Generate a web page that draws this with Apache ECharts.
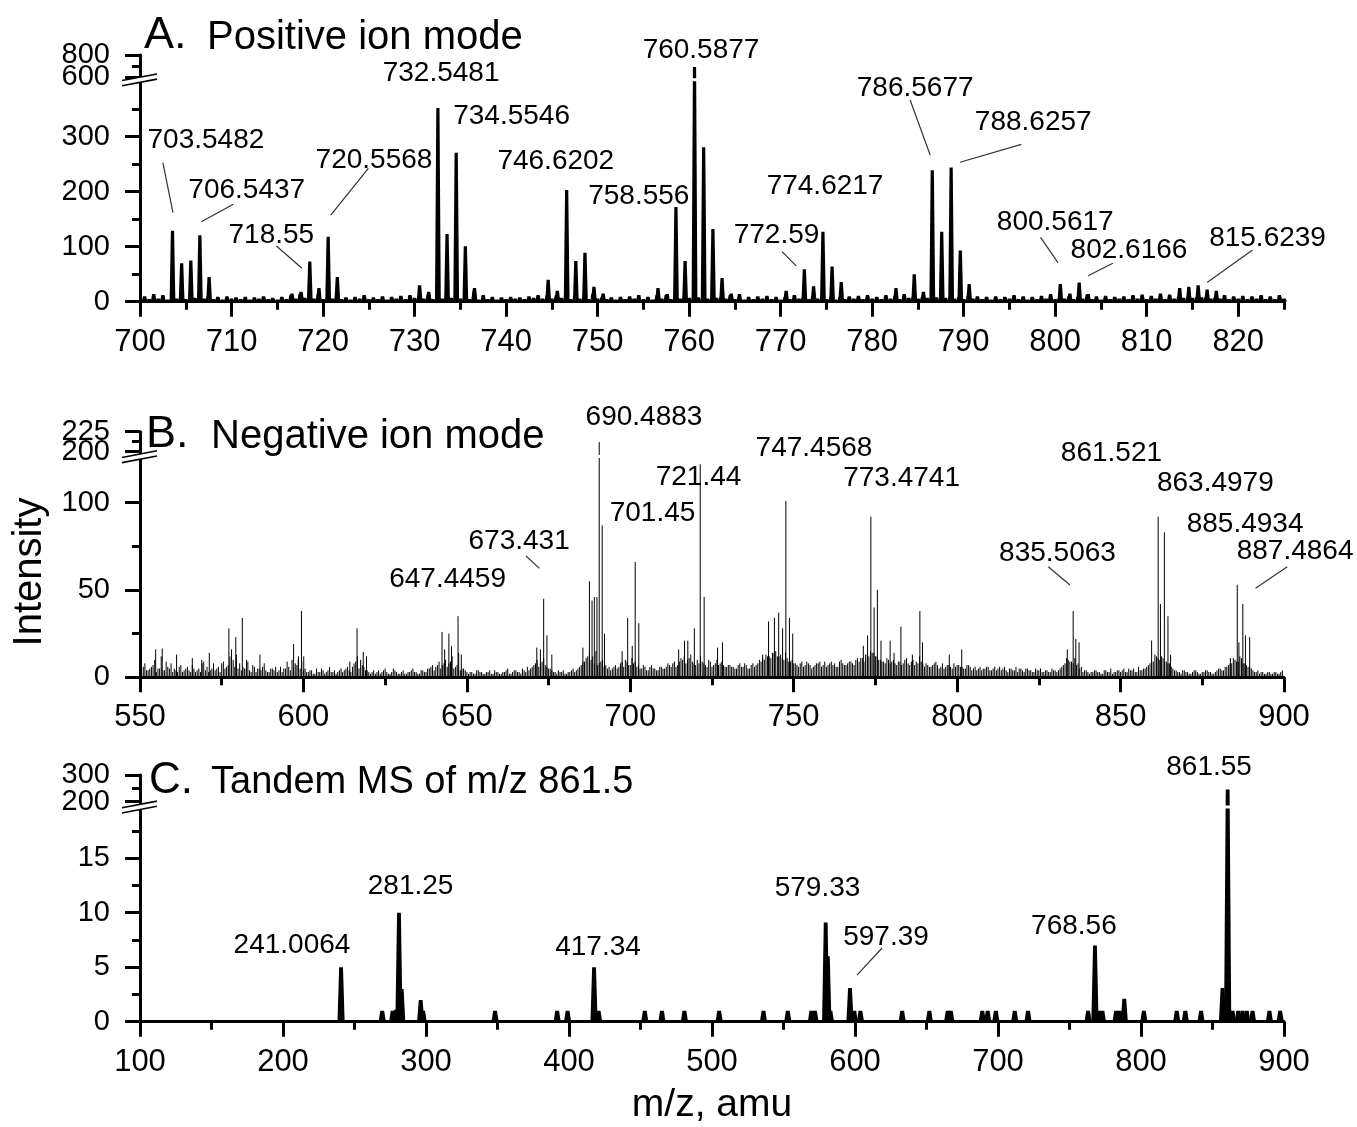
<!DOCTYPE html>
<html><head><meta charset="utf-8">
<script src="https://cdn.jsdelivr.net/npm/echarts@6/dist/echarts.min.js"></script>
<style>html,body{margin:0;padding:0;background:#fff}#c{width:1357px;height:1127px}</style>
</head><body><div id="c"></div>
<script>
const FONT = '"Liberation Sans", Arial, Helvetica, sans-serif';

// ---------- Panel A : positive ion mode ----------
const xTicksA = [700,710,720,730,740,750,760,770,780,790,800,810,820];
const xMinorA = [705,715,725,735,745,755,765,775,785,795,805,815,825];
const yTicksA = [0,100,200,300,600,800];
const yLabelValsA = [0,100,200,300,600];
const yLabelsA = ['0','100','200','300','600'];
const yTopLabelValsA = [800];
const yTopLabelsA = ['800'];
const yMinorA = [50,150,250,350,700];
const peaksA_mz = [703.55,704.55,705.55,706.54,707.55,716.6,717.6,718.55,719.55,720.56,721.56,
  730.55,731.55,732.55,733.55,734.55,735.55,736.55,744.6,745.6,746.62,747.62,748.62,749.6,750.6,
  756.6,757.6,758.56,759.56,760.59,761.59,762.6,763.6,764.6,770.6,772.59,773.6,774.62,775.62,776.62,
  782.6,784.6,785.6,786.57,787.6,788.63,789.63,790.6,800.56,801.6,802.62,803.6,813.6,814.6,815.62,816.6,817.6];
const peaksA_int = [129,70,75,121,45,15,18,73,25,118,45,
  30,18,352,123,271,101,25,40,20,203,74,89,27,15,
  25,14,172,74,690,281,132,43,15,20,59,28,127,64,36,
  25,50,18,239,127,244,93,32,32,15,35,14,25,27,30,22,20];
const noiseA1_first = 700.5; // small peaks, one per 1 amu bin (x.5)
const noiseA1 = [10,14,12,8,9,8,8,12,9,10, 8,9,8,10,7,9,12,15,10,14, 9,10,8,9,12,8,10,9,11,12,
  10,14,9,9,9,9,20,12,9,8, 9,8,10,12,12,12,9,10,9,15, 9,8,9,10,12,9,12,12,9,9,
  9,9,9,9,12,14,9,10,11,9, 9,12,9,9,9,9,9,10,11,12, 9,12,11,14,9,9,9,9,9,9,
  11,10,9,10,9,12,10,9,11,14, 9,10,9,13,10,11,9,10,12,13, 11,15,13,9,9,9,9,9,12,10, 11,10,12,10,12];
const noiseA2_first = 701; // baseline ripple at integer m/z
const noiseA2 = [5,6,4,6,5,7,6,5,4,6, 5,4,6,5,4,5,6,7,6,5, 6,5,4,6,5,5,4,6,5,7, 6,5,6,7,6,5,4,5,4,5,
  6,5,7,6,6,7,5,6,5,6, 5,4,5,6,5,4,6,5,6,7, 8,6,7,6,5,4,5,6,5,4, 5,6,5,6,5,4,5,6,5,6,
  5,6,5,7,6,7,8,7,6,5, 6,5,4,5,6,5,4,5,6,5, 6,5,6,5,4,5,6,5,6,5, 6,5,6,7,7,8,6,6,5,6, 5,6,5,5,6];
const labelsA = ['703.5482','706.5437','718.55','720.5568','732.5481','734.5546','746.6202','758.556',
  '760.5877','772.59','774.6217','786.5677','788.6257','800.5617','802.6166','815.6239'];

// ---------- Panel B : negative ion mode ----------
const xTicksB = [550,600,650,700,750,800,850,900];
const xMinorB = [575,625,675,725,775,825,875];
const yTicksB = [0,50,100,200,225];
const yLabelValsB = [0,50,100,200];
const yLabelsB = ['0','50','100','200'];
const yTopLabelValsB = [225];
const yTopLabelsB = ['225'];
const yMinorB = [25,75,212.5];
const peaksB_mz = [554.8,556.8,561.2,566,568.9,571.2,577.2,578,579.3,581.3,582.6,586.7,597,598.4,599.4,600.1,
  614.2,616.4,618.3,619.3,642.4,643.2,644.5,645.3,647.3,648.3,671.4,672.5,673.5,674.5,676,
  685.5,687.5,688.3,689.0,689.8,690.5,691.4,692.1,697.5,699.2,700.6,701.5,702.6,
  714.8,716.6,717.6,719.6,721.4,722.6,726.7,728.2,740.5,742.3,744.1,745.4,746.6,747.6,748.7,749.7,
  771.3,772.6,773.6,774.6,775.6,776.7,779.5,780.7,782.8,786.3,788.6,789.4,797.6,801.4,
  833.7,835.5,836.3,837.3,859.5,861.5,862.2,863.4,864.5,865.3,883.6,885.7,886.2,887.4,888.2,889.5];
const peaksB_int = [16,16.5,13,11,10,14,28,16,23,34,10,13,19,10,38,12,
  9,28,14.5,12,26,16,25,18,35,13,17,16,45,24,13,
  17,55,44,46,46,212,87,25,15,34,18,66,31,
  16,21,21,28,122,46,17,20,13,32,34,37,28,101,34,25,
  18,24,92,40,50,21,21,14,29,13,38,20,13,16,
  16,38,22,20,21,92,42,83,35,13,11,53,20,42,24,23];
const noiseB1_first = 551; // sticks at integer m/z
const noiseB1 = [6,4,5,7,3,5,4,9,5,3, 4,6,3,5,4,7,3,5,8,4, 3,5,4,6,8,5,7,4,6,5, 4,5,9,3,6,5,4,8,3,5,
  4,3,6,5,9,4,6,7,5,4, 3,4,2,5,3,4,3,6,3,2, 4,3,5,4,6,9,5,7,4,3, 3,2,4,3,5,2,3,4,2,3,
  2,3,4,3,2,4,3,5,6,4, 7,5,8,6,9,5,7,4,5,3, 3,2,4,3,2,3,4,2,3,2, 3,4,2,3,4,3,5,3,4,6,
  8,6,9,7,5,4,3,4,3,2, 3,4,3,5,7,9,12,10,8,7, 9,6,5,4,6,5,8,6,9,7, 8,6,5,7,4,6,5,4,6,5,
  6,7,8,6,9,10,8,11,9,7, 8,9,7,10,6,8,7,9,6,7, 6,5,7,6,8,5,7,6,8,9, 10,12,11,14,12,13,10,11,9,8,
  7,8,6,9,7,6,8,9,7,6, 8,7,6,9,8,7,9,8,10,9, 11,13,12,14,12,10,9,8,10,9, 8,9,7,10,8,9,7,8,9,6,
  7,6,8,7,6,5,7,6,8,7, 6,5,7,6,5,4,6,5,6,4, 5,4,6,5,4,5,4,6,5,4, 5,4,3,5,4,3,4,3,5,4,
  4,6,8,10,9,11,8,6,4,3, 3,4,3,2,4,3,5,3,4,3, 5,3,4,5,3,4,5,6,8,9, 12,10,11,9,8,5,4,3,4,3,
  2,3,4,2,3,4,3,2,3,5, 4,6,7,8,10,9,11,8,6,5, 3,4,3,2,3,2,3,2,3];
const noiseB2_first = 550.5; // sticks at half-integer m/z
const noiseB2 = [3,8,4,6,10,5,12,4,6,8, 5,3,7,4,6,3,5,4,3,9, 6,4,8,5,3,9,6,12,10,13, 8,6,5,4,7,3,5,6,4,3,
  5,6,4,3,5,6,10,8,12,9, 5,3,4,2,3,5,2,4,3,4, 3,5,4,6,3,8,12,10,6,4, 2,4,3,2,4,3,2,5,3,2,
  4,2,3,5,3,2,4,3,5,7, 6,9,7,10,8,12,6,14,5,4, 2,3,2,4,3,2,3,2,4,3, 2,3,5,2,4,3,2,4,6,5,
  7,10,8,11,6,5,3,2,3,4, 2,3,5,4,6,9,11,14,12,15, 8,10,7,6,5,7,6,9,10,7, 11,9,7,5,6,4,7,5,4,6,
  5,8,6,9,7,11,12,10,13,8, 10,12,8,6,9,7,10,8,7,6, 7,6,5,8,6,7,5,8,7,10, 11,13,12,14,15,12,11,14,9,10,
  8,6,9,7,8,5,7,8,6,9, 7,9,8,6,10,7,8,9,7,11, 11,9,13,15,14,12,10,9,11,8, 10,7,9,8,11,7,10,9,12,8,
  8,6,7,9,5,8,6,7,5,6, 7,6,5,7,4,6,5,4,5,6, 4,6,5,4,6,3,5,4,3,5, 3,5,4,3,4,5,3,4,3,4,
  3,5,7,11,9,8,7,5,3,4, 2,3,4,3,2,4,3,2,3,4, 4,3,5,4,3,6,4,5,7,9, 13,11,12,9,8,6,4,3,2,4,
  3,2,4,3,2,3,4,3,2,4, 5,4,6,8,11,9,12,8,7,6, 4,3,2,3,2,3,2,3,2,4];
const labelsB = ['647.4459','673.431','690.4883','701.45','721.44','747.4568','773.4741',
  '835.5063','861.521','863.4979','885.4934','887.4864'];

// ---------- Panel C : tandem MS of m/z 861.5 ----------
const xTicksC = [100,200,300,400,500,600,700,800,900];
const xMinorC = [150,250,350,450,550,650,750,850];
const yTicksC = [0,5,10,15,200,300];
const yLabelValsC = [0,5,10,15,200];
const yLabelsC = ['0','5','10','15','200'];
const yTopLabelValsC = [300];
const yTopLabelsC = ['300'];
const yMinorC = [2.5,7.5,12.5,17.5,250];
const peaksC_mz = [240.6,269.4,276.7,279,281.1,283,296.3,298,348.3,391.7,399,417.5,420.7,453,465,480.7,505,536,553,
  569.5,572,579.5,581,582.8,596.5,599.5,603.8,633,652,664.8,667,689,692.8,698.5,711.7,721,763,767.8,770.5,773,
  782.6,785,788.3,802,825,831,842,857,860.6,864,868,871,874,878,889.8,897.3];
const peaksC_int = [5.0,1.0,1.0,1.1,10.0,3.0,2.0,1.0,1.0,1.0,1.0,5.0,1.0,1.0,1.0,1.0,1.0,1.0,1.0,
  1.0,1.0,9.1,6.0,1.0,3.1,1.0,1.0,1.0,1.0,1.0,1.0,1.0,1.0,1.0,1.0,1.0,1.0,7.0,1.0,1.0,
  1.0,1.0,2.1,1.0,1.0,1.0,1.0,3.1,246,1.0,1.0,1.0,1.0,1.0,1.0,1.0];
const labelsC = ['241.0064','281.25','417.34','579.33','597.39','768.56','861.55'];

// ---------- broken-axis mappings (intensity -> axis units) ----------
const tA = v => v <= 400 ? v : (v < 600 ? 400 + (v - 400) / 200 * 8.5 : 408.5 + (v - 600) * 0.2);
const tB = v => v <= 126 ? v : (v < 200 ? 126 + (v - 126) / 74 * 3.2 : 129.2 + (v - 200) * 0.4585);
const tC = v => v <= 19.4 ? v : (v < 200 ? 19.4 + (v - 19.4) / 180.6 * 0.78 : 20.18 + (v - 200) * 0.0245);

// ---------- layout (label anchor in axis units; optional leader line) ----------
const LAYOUT = {
  A: { breakT: 403.5, yMax: tA(800),
    ann: [[707.2,294,702.5,252.7,703.6,161.8],[711.66,203,710.2,177,706.7,145.5],[714.35,121,714.9,101.3,717.7,60.7],
      [725.57,257.6,724.95,242.5,720.84,157.6],[732.9,415.8],[740.6,336.4],[745.43,254.5],[754.5,192],
      [761.3,457.6],[769.55,121,770.15,91,771.7,65],[774.85,210],[784.7,388.5,784.15,366.7,786.34,266.7],
      [797.6,326.7,796.3,286,789.6,253.5],[800.0,145,798.4,117,800.3,71],[808.06,94,806.3,70,803.6,47.3],
      [823.2,115.8,821.56,94,816.6,35]] },
  B: { breakT: 126.4, yMax: tB(225),
    ann: [[644.1,56.3],[666.0,77.8,668.1,69.5,672.2,62.4],[704.2,149],[706.8,94.1],[720.87,114.7],[756.2,131.3],
      [783.0,114.1],[830.7,71.2,827.9,63.3,834.5,52.9],[847.2,128.5],[879.0,111.3],[888.1,87.8],
      [903.4,72.3,901,63.3,891.3,51]] },
  C: { breakT: 19.7, yMax: tC(300),
    ann: [[206.3,7.04],[289.2,12.4],[420.3,6.85],[573.8,12.27],[621.7,7.77,618.9,6.76,601.4,4.28],[753.1,8.78],[847.6,23.3]] }
};

const grids = [
  { left: 140, width: 1144, top: 55, height: 246.7 },
  { left: 140, width: 1144, top: 431.7, height: 245.6 },
  { left: 140, width: 1144, top: 775, height: 246.7 }
];

function xMajor(gi, min, max, ticks) {
  return { type: 'value', gridIndex: gi, min, max, position: 'bottom',
    axisLine: { show: true, onZero: false, lineStyle: { color: '#000', width: 3 } },
    axisTick: { show: true, customValues: ticks, length: 15, lineStyle: { color: '#000', width: 3 } },
    axisLabel: { show: true, customValues: ticks, margin: 25, fontSize: 31, color: '#000', fontFamily: FONT,
      formatter: v => String(Math.round(v)) },
    splitLine: { show: false } };
}
function xMinor(gi, min, max, ticks) {
  return { type: 'value', gridIndex: gi, min, max, position: 'bottom',
    axisLine: { show: false }, axisLabel: { show: false }, splitLine: { show: false },
    axisTick: { show: true, customValues: ticks, length: 8, lineStyle: { color: '#000', width: 3 } } };
}
function labelCfg(vals, labels, tf) {
  const cv = vals.map(tf);
  return { show: true, customValues: cv, margin: 30, fontSize: 29, color: '#000', fontFamily: FONT,
    showMinLabel: true, showMaxLabel: true, hideOverlap: false,
    formatter: v => { const i = cv.findIndex(c => Math.abs(c - v) < 1e-6); return i >= 0 ? labels[i] : ''; } };
}
function yMajor(gi, max, ticks, lv, ll, tf) {
  return { type: 'value', gridIndex: gi, min: 0, max, position: 'left',
    axisLine: { show: true, onZero: false, lineStyle: { color: '#000', width: 3 } },
    axisTick: { show: true, customValues: ticks.map(tf), length: 15, lineStyle: { color: '#000', width: 3 } },
    axisLabel: labelCfg(lv, ll, tf),
    splitLine: { show: false } };
}
function yMinor(gi, max, ticks, lv, ll, tf) {
  return { type: 'value', gridIndex: gi, min: 0, max, position: 'left',
    axisLine: { show: false }, splitLine: { show: false },
    axisLabel: labelCfg(lv, ll, tf),
    axisTick: { show: true, customValues: ticks.map(tf), length: 8, lineStyle: { color: '#000', width: 3 } } };
}

function peakRender(hwBase, hwTop) {
  return function (params, api) {
    const x = api.value(0), y = api.value(1);
    const b = api.coord([x, 0]), t = api.coord([x, y]);
    return { type: 'polygon', shape: { points: [[b[0] - hwBase, b[1]], [t[0] - hwTop, t[1]], [t[0] + hwTop, t[1]], [b[0] + hwBase, b[1]]] },
      style: { fill: '#000' } };
  };
}
function stickRender(params, api) {
  const x = api.value(0), y = api.value(1);
  const b = api.coord([x, 0]), t = api.coord([x, y]);
  return { type: 'line', shape: { x1: b[0], y1: b[1], x2: t[0], y2: t[1] }, style: { stroke: '#000', lineWidth: 1 } };
}
function breakRender(xmax) {
  return function (params, api) {
    const p = api.coord([api.value(0), api.value(1)]);
    const r = api.coord([xmax, api.value(1)]);
    const s = 0.19, d0 = -18, d1 = 17, g = 2.6;
    const yAt = (d, o) => p[1] - s * d + o;
    return { type: 'group', children: [
      { type: 'rect', shape: { x: p[0] + 3, y: p[1] - 1.5, width: r[0] - p[0] - 3, height: 3 }, style: { fill: '#fff' } },
      { type: 'polygon', shape: { points: [[p[0] + d0, yAt(d0, -g)], [p[0] + d1, yAt(d1, -g)], [p[0] + d1, yAt(d1, g)], [p[0] + d0, yAt(d0, g)]] }, style: { fill: '#fff' } },
      { type: 'line', shape: { x1: p[0] + d0, y1: yAt(d0, -g), x2: p[0] + d1, y2: yAt(d1, -g) }, style: { stroke: '#000', lineWidth: 1.6 } },
      { type: 'line', shape: { x1: p[0] + d0, y1: yAt(d0, g), x2: p[0] + d1, y2: yAt(d1, g) }, style: { stroke: '#000', lineWidth: 1.6 } }
    ] };
  };
}
function annRender(texts, ann) {
  return function (params, api) {
    const a = ann[params.dataIndex];
    const c = api.coord([a[0], a[1]]);
    const children = [{ type: 'text', x: c[0], y: c[1],
      style: { text: texts[params.dataIndex], fill: '#000', font: '28px ' + FONT, align: 'center', verticalAlign: 'middle',
        textAlign: 'center', textVerticalAlign: 'middle' } }];
    if (a.length > 2) {
      const p1 = api.coord([a[2], a[3]]), p2 = api.coord([a[4], a[5]]);
      children.push({ type: 'line', shape: { x1: p1[0], y1: p1[1], x2: p2[0], y2: p2[1] }, style: { stroke: '#333', lineWidth: 1.2 } });
    }
    return { type: 'group', children };
  };
}

const dataA = noiseA2.map((h, i) => [noiseA2_first + i, tA(h)])
  .concat(noiseA1.map((h, i) => [noiseA1_first + i, tA(h)]))
  .concat(peaksA_mz.map((m, i) => [m, tA(peaksA_int[i])]));
const dataB = noiseB1.map((h, i) => [noiseB1_first + i, tB(h)])
  .concat(noiseB2.map((h, i) => [noiseB2_first + i, tB(h)]))
  .concat(peaksB_mz.map((m, i) => [m, tB(peaksB_int[i])]));
const dataC = peaksC_mz.map((m, i) => [m, tC(peaksC_int[i])]);

const series = [
  { type: 'custom', xAxisIndex: 0, yAxisIndex: 0, data: dataA, renderItem: peakRender(2.9, 1.6), encode: { x: 0, y: 1 }, z: 3, silent: true },
  { type: 'custom', xAxisIndex: 1, yAxisIndex: 1, data: dataB, renderItem: stickRender, encode: { x: 0, y: 1 }, z: 3, silent: true },
  { type: 'custom', xAxisIndex: 2, yAxisIndex: 2, data: dataC, renderItem: peakRender(3.6, 1.9), encode: { x: 0, y: 1 }, z: 3, silent: true },
  { type: 'custom', xAxisIndex: 0, yAxisIndex: 0, data: [[700, LAYOUT.A.breakT]], renderItem: breakRender(825), z: 20, silent: true },
  { type: 'custom', xAxisIndex: 1, yAxisIndex: 1, data: [[550, LAYOUT.B.breakT]], renderItem: breakRender(900), z: 20, silent: true },
  { type: 'custom', xAxisIndex: 2, yAxisIndex: 2, data: [[100, LAYOUT.C.breakT]], renderItem: breakRender(900), z: 20, silent: true },
  { type: 'custom', xAxisIndex: 0, yAxisIndex: 0, data: LAYOUT.A.ann.map(a => [a[0], a[1]]), renderItem: annRender(labelsA, LAYOUT.A.ann), z: 30, silent: true },
  { type: 'custom', xAxisIndex: 1, yAxisIndex: 1, data: LAYOUT.B.ann.map(a => [a[0], a[1]]), renderItem: annRender(labelsB, LAYOUT.B.ann), z: 30, silent: true },
  { type: 'custom', xAxisIndex: 2, yAxisIndex: 2, data: LAYOUT.C.ann.map(a => [a[0], a[1]]), renderItem: annRender(labelsC, LAYOUT.C.ann), z: 30, silent: true }
];

function txt(x, y, text, size, align, rot) {
  return { type: 'text', x, y, rotation: rot || 0, z: 50,
    style: { text, fill: '#000', font: size + 'px ' + FONT, align: align || 'left', verticalAlign: 'middle',
      textAlign: align || 'left', textVerticalAlign: 'middle' } };
}

const option = {
  animation: false,
  backgroundColor: '#fff',
  textStyle: { fontFamily: FONT },
  grid: grids,
  xAxis: [xMajor(0, 700, 825, xTicksA), xMajor(1, 550, 900, xTicksB), xMajor(2, 100, 900, xTicksC),
          xMinor(0, 700, 825, xMinorA), xMinor(1, 550, 900, xMinorB), xMinor(2, 100, 900, xMinorC)],
  yAxis: [yMajor(0, LAYOUT.A.yMax, yTicksA, yLabelValsA, yLabelsA, tA),
          yMajor(1, LAYOUT.B.yMax, yTicksB, yLabelValsB, yLabelsB, tB),
          yMajor(2, LAYOUT.C.yMax, yTicksC, yLabelValsC, yLabelsC, tC),
          yMinor(0, LAYOUT.A.yMax, yMinorA, yTopLabelValsA, yTopLabelsA, tA),
          yMinor(1, LAYOUT.B.yMax, yMinorB, yTopLabelValsB, yTopLabelsB, tB),
          yMinor(2, LAYOUT.C.yMax, yMinorC, yTopLabelValsC, yTopLabelsC, tC)],
  series,
  graphic: [
    txt(144, 36, 'A.', 45), txt(207, 37.5, 'Positive ion mode', 40),
    txt(146, 435, 'B.', 45), txt(211, 436.5, 'Negative ion mode', 40),
    txt(149, 781, 'C.', 44), txt(211, 783, 'Tandem MS of m/z 861.5', 38),
    txt(30, 572, 'Intensity', 40, 'center', Math.PI / 2),
    txt(712, 1105, 'm/z, amu', 39, 'center')
  ]
};

const chart = echarts.init(document.getElementById('c'), null, { renderer: 'canvas' });
chart.setOption(option);
</script>
</body></html>
